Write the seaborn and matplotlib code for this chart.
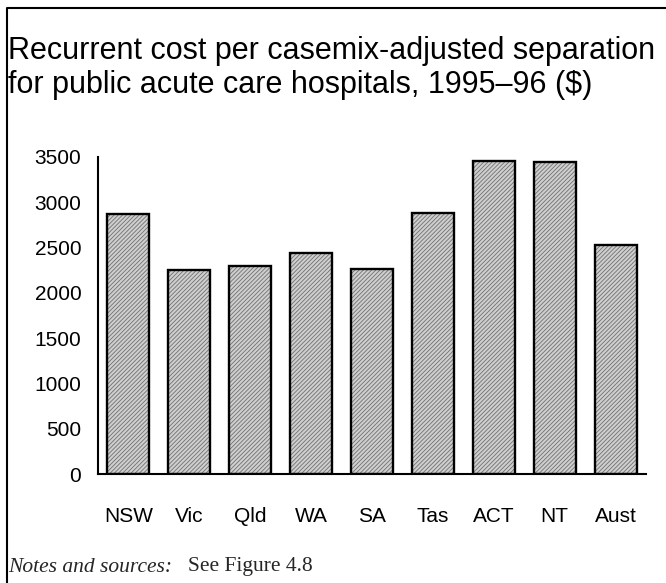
import matplotlib
matplotlib.use("Agg")
import matplotlib.pyplot as plt
import seaborn as sns
import pandas as pd
from matplotlib.patches import Rectangle
from matplotlib.lines import Line2D

states = ["NSW", "Vic", "Qld", "WA", "SA", "Tas", "ACT", "NT", "Aust"]
costs = [2870, 2252, 2300, 2436, 2259, 2884, 3451, 3440, 2524]
yticks = [0, 500, 1000, 1500, 2000, 2500, 3000, 3500]

title = "Recurrent cost per casemix-adjusted separation\nfor public acute care hospitals, 1995\u201396 ($)"

sns.set_theme(style="white")
plt.rcParams["font.family"] = ["Liberation Sans", "DejaVu Sans"]
plt.rcParams["hatch.linewidth"] = 0.6

df = pd.DataFrame({"state": states, "cost": costs})

fig = plt.figure(figsize=(6.66, 5.83), dpi=100)
ax = fig.add_axes([98/666, 1-474/583, (646-98)/666, (474-157)/583])

sns.barplot(data=df, x="state", y="cost", order=states, color="#cfcfcf",
            saturation=1, width=0.69, edgecolor="#707070", linewidth=0,
            hatch="////////", ax=ax)
for p in list(ax.patches):
    ax.add_patch(Rectangle(p.get_xy(), p.get_width(), p.get_height(),
                           facecolor="none", edgecolor="black", linewidth=1.7,
                           zorder=3))

ax.set_xlim(-0.5, len(states) - 0.5)
ax.set_ylim(0, 3500)
ax.set_yticks(yticks)
ax.set_yticklabels([str(v) for v in yticks])
ax.set_xlabel("")
ax.set_ylabel("")
for s in ["top", "right"]:
    ax.spines[s].set_visible(False)
for s in ["left", "bottom"]:
    ax.spines[s].set_color("black")
    ax.spines[s].set_linewidth(1.5)
ax.tick_params(axis="both", length=0, labelsize=15, colors="black")
ax.tick_params(axis="y", pad=12)
ax.tick_params(axis="x", pad=24)

fig.text(8/666, 1-68/583, title, fontsize=22, ha="left", va="center",
         linespacing=1.2, color="black")

fig.text(8/666, 1-567/583, "Notes and sources:", fontsize=15.5, style="italic",
         family=["Liberation Serif"], ha="left", va="center")
fig.text(188/666, 1-567/583, "See Figure 4.8", fontsize=15.5,
         family=["Liberation Serif"], ha="left", va="center")

# outer frame (top and left edges visible)
fig.add_artist(Line2D([6.5/666, 6.5/666, 1.0], [0.0, 1-8/583, 1-8/583],
                      transform=fig.transFigure, color="black", linewidth=1.5))

fig.savefig("out.png", dpi=100)
